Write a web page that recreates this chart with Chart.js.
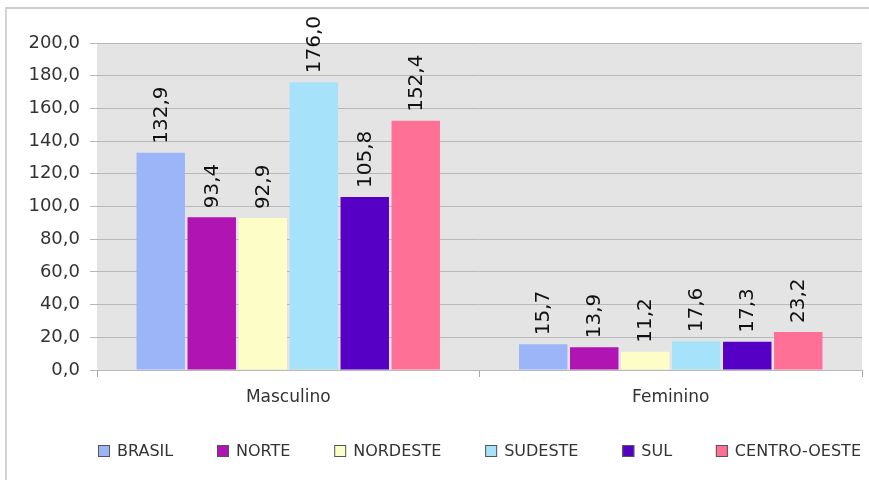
<!DOCTYPE html>
<html>
<head>
<meta charset="utf-8">
<script src="https://cdn.jsdelivr.net/npm/chart.js@4.4.0/dist/chart.umd.min.js"></script>
<style>
  html, body { margin: 0; padding: 0; background: #fff; }
  #wrap { position: relative; width: 869px; height: 480px; }
  #frame { position: absolute; left: 5px; top: 7px; right: 0; bottom: 0;
           border-top: 2px solid #cdcdcd; border-left: 2px solid #d4d4d4; }
</style>
</head>
<body>
<div id="wrap">
  <div id="frame"></div>
  <canvas id="chart"></canvas>
</div>
<script>
// dados
const categorias = ["Masculino", "Feminino"];
const regioes = ["BRASIL", "NORTE", "NORDESTE", "SUDESTE", "SUL", "CENTRO-OESTE"];
const brasil = [132.9, 15.7];
const norte = [93.4, 13.9];
const nordeste = [92.9, 11.2];
const sudeste = [176.0, 17.6];
const sul = [105.8, 17.3];
const centroOeste = [152.4, 23.2];
const yTicks = [0, 20, 40, 60, 80, 100, 120, 140, 160, 180, 200];

const cores = ["#9bb5f8", "#b014b2", "#fdfdc8", "#a6e2fa", "#5600c6", "#fe7096"];
const series = [brasil, norte, nordeste, sudeste, sul, centroOeste];

const fonte = "'DejaVu Sans', Verdana, sans-serif";

function fmt(v) {
  return v.toFixed(1).replace(".", ",");
}

// fundo cinza da area do grafico
const fundoPlugin = {
  id: "fundo",
  beforeDraw(chart) {
    const a = chart.chartArea;
    const ctx = chart.ctx;
    ctx.save();
    ctx.fillStyle = "#e4e4e4";
    ctx.fillRect(a.left, a.top, a.right - a.left, a.bottom - a.top);
    ctx.restore();
  }
};

// rotulos de valor na vertical
const rotulosPlugin = {
  id: "rotulos",
  afterDatasetsDraw(chart) {
    const ctx = chart.ctx;
    ctx.save();
    ctx.font = "20px " + fonte;
    ctx.fillStyle = "#111";
    ctx.textAlign = "left";
    ctx.textBaseline = "middle";
    chart.data.datasets.forEach((ds, i) => {
      chart.getDatasetMeta(i).data.forEach((bar, j) => {
        ctx.save();
        ctx.translate(bar.x, bar.y - 9);
        ctx.rotate(-Math.PI / 2);
        ctx.fillText(fmt(ds.data[j]), 0, 1);
        ctx.restore();
      });
    });
    ctx.restore();
  }
};

// legenda em baixo, alinhada com a area do grafico
const legendaPlugin = {
  id: "legenda",
  afterDraw(chart) {
    const ctx = chart.ctx;
    const a = chart.chartArea;
    const box = 12;
    ctx.save();
    ctx.font = "16px " + fonte;
    const larguras = chart.data.datasets.map((ds) => box + 8 + ctx.measureText(ds.label).width);
    const soma = larguras.reduce((s, w) => s + w, 0);
    const gap = (a.right - a.left - 1 - soma) / (larguras.length - 1);
    const y = chart.height - 29;
    let x = a.left + 1;
    ctx.textBaseline = "middle";
    ctx.textAlign = "left";
    chart.data.datasets.forEach((ds, i) => {
      ctx.fillStyle = ds.backgroundColor;
      ctx.fillRect(x, y - box / 2, box, box);
      ctx.strokeStyle = "#555";
      ctx.lineWidth = 1;
      ctx.strokeRect(x + 0.5, y - box / 2 + 0.5, box - 1, box - 1);
      ctx.fillStyle = "#333";
      ctx.fillText(ds.label, x + box + 7, y + 1);
      x += larguras[i] + gap;
    });
    ctx.restore();
  }
};

const ctx = document.getElementById("chart").getContext("2d");

new Chart(ctx, {
  type: "bar",
  data: {
    labels: categorias,
    datasets: regioes.map((r, i) => ({
      label: r,
      data: series[i],
      backgroundColor: cores[i],
      borderWidth: 0,
      categoryPercentage: 0.8,
      barPercentage: 0.95
    }))
  },
  options: {
    responsive: true,
    maintainAspectRatio: false,
    animation: false,
    layout: {
      padding: { top: 43, right: 7, bottom: 70, left: 0 }
    },
    plugins: {
      legend: { display: false },
      tooltip: { enabled: false }
    },
    scales: {
      x: {
        offset: true,
        border: { display: false },
        grid: {
          display: true,
          offset: true,
          drawOnChartArea: false,
          drawTicks: true,
          tickLength: 7,
          color: "#a8a8a8"
        },
        ticks: {
          color: "#333",
          padding: 10,
          font: { family: fonte, size: 17 }
        },
        afterFit(scale) {
          scale.height = 40;
        }
      },
      y: {
        min: 0,
        max: 200,
        border: { display: false },
        grid: {
          color: "#b8b8b8",
          tickLength: 7
        },
        afterBuildTicks(scale) {
          scale.ticks = yTicks.map((v) => ({ value: v }));
        },
        ticks: {
          color: "#333",
          padding: 10,
          font: { family: fonte, size: 18 },
          callback: (v) => fmt(v)
        },
        afterFit(scale) {
          scale.width = 97;
        }
      }
    }
  },
  plugins: [fundoPlugin, rotulosPlugin, legendaPlugin]
});
</script>
</body>
</html>
